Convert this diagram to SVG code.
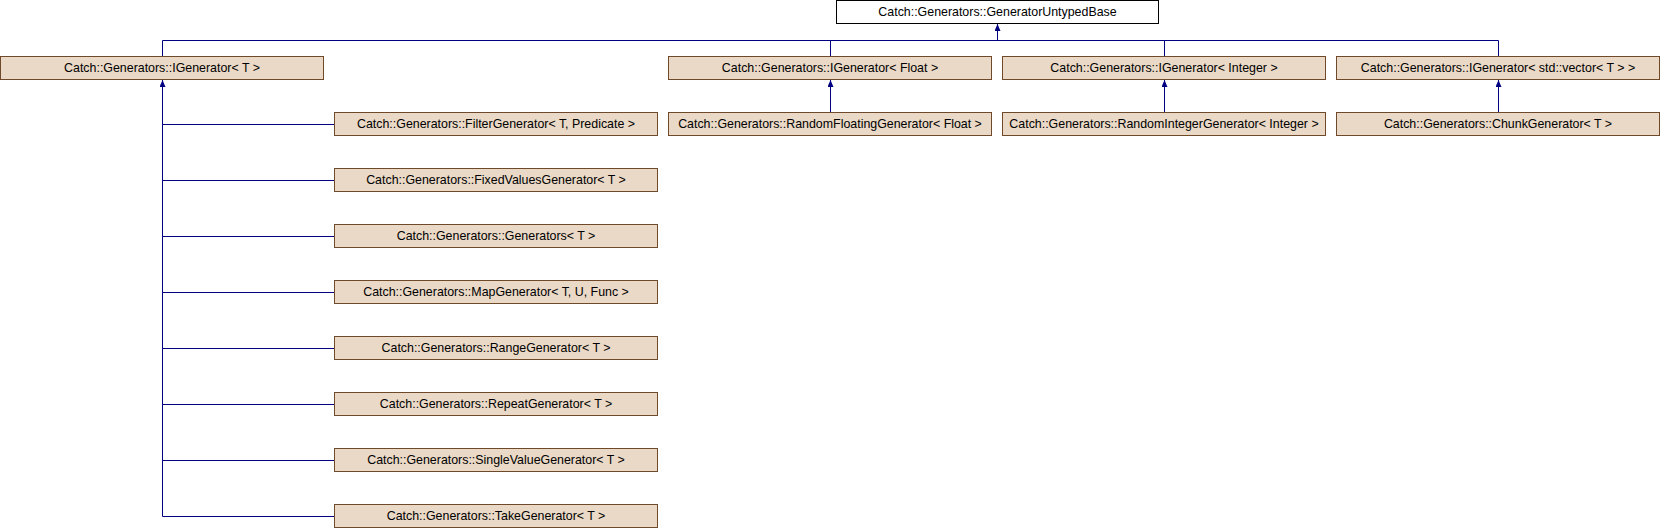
<svg xmlns="http://www.w3.org/2000/svg" width="1660" height="528" viewBox="0 0 1660 528">
<style>
.n rect{fill:#EAD9C6;stroke:#6E4A2A;stroke-width:1}
.n.base rect{fill:#FFFFFF;stroke:#000000}
.n text{font-family:"Liberation Sans",Arial,sans-serif;font-size:12.4px;fill:#000000;text-anchor:middle}
.e path{fill:none;stroke:#000080;stroke-width:1}
</style>
<defs>
<marker id="arr" markerUnits="userSpaceOnUse" viewBox="0 0 7 6" refX="7" refY="3" markerWidth="7" markerHeight="6" orient="auto">
<path d="M0,0 L7,3 L0,6 z" fill="#000080"/>
</marker>
</defs>
<rect width="1660" height="528" fill="#FFFFFF"/>
<g id="connectors" class="e">
<path d="M997.5,40.5 V24" marker-end="url(#arr)"/>
<path d="M162.5,40.5 H1498.5"/>
<path d="M162.5,40.5 V56"/>
<path d="M830.5,40.5 V56"/>
<path d="M1164.5,40.5 V56"/>
<path d="M1498.5,40.5 V56"/>
<path d="M830.5,112 V80" marker-end="url(#arr)"/>
<path d="M1164.5,112 V80" marker-end="url(#arr)"/>
<path d="M1498.5,112 V80" marker-end="url(#arr)"/>
<path d="M162.5,516.5 V80" marker-end="url(#arr)"/>
<path d="M162.5,124.5 H334"/>
<path d="M162.5,180.5 H334"/>
<path d="M162.5,236.5 H334"/>
<path d="M162.5,292.5 H334"/>
<path d="M162.5,348.5 H334"/>
<path d="M162.5,404.5 H334"/>
<path d="M162.5,460.5 H334"/>
<path d="M162.5,516.5 H334"/>
</g>
<g id="GeneratorUntypedBase" class="n base"><rect x="836.5" y="0.5" width="322" height="23"/><text x="997.5" y="16">Catch::Generators::GeneratorUntypedBase</text></g>
<g id="IGenerator_T" class="n"><rect x="0.5" y="56.5" width="323" height="23"/><text x="162" y="72">Catch::Generators::IGenerator&lt; T &gt;</text></g>
<g id="IGenerator_Float" class="n"><rect x="668.5" y="56.5" width="323" height="23"/><text x="830" y="72">Catch::Generators::IGenerator&lt; Float &gt;</text></g>
<g id="IGenerator_Integer" class="n"><rect x="1002.5" y="56.5" width="323" height="23"/><text x="1164" y="72">Catch::Generators::IGenerator&lt; Integer &gt;</text></g>
<g id="IGenerator_vector" class="n"><rect x="1336.5" y="56.5" width="323" height="23"/><text x="1498" y="72">Catch::Generators::IGenerator&lt; std::vector&lt; T &gt; &gt;</text></g>
<g id="RandomFloatingGenerator" class="n"><rect x="668.5" y="112.5" width="323" height="23"/><text x="830" y="128">Catch::Generators::RandomFloatingGenerator&lt; Float &gt;</text></g>
<g id="RandomIntegerGenerator" class="n"><rect x="1002.5" y="112.5" width="323" height="23"/><text x="1164" y="128">Catch::Generators::RandomIntegerGenerator&lt; Integer &gt;</text></g>
<g id="ChunkGenerator" class="n"><rect x="1336.5" y="112.5" width="323" height="23"/><text x="1498" y="128">Catch::Generators::ChunkGenerator&lt; T &gt;</text></g>
<g id="FilterGenerator" class="n"><rect x="334.5" y="112.5" width="323" height="23"/><text x="496" y="128">Catch::Generators::FilterGenerator&lt; T, Predicate &gt;</text></g>
<g id="FixedValuesGenerator" class="n"><rect x="334.5" y="168.5" width="323" height="23"/><text x="496" y="184">Catch::Generators::FixedValuesGenerator&lt; T &gt;</text></g>
<g id="Generators" class="n"><rect x="334.5" y="224.5" width="323" height="23"/><text x="496" y="240">Catch::Generators::Generators&lt; T &gt;</text></g>
<g id="MapGenerator" class="n"><rect x="334.5" y="280.5" width="323" height="23"/><text x="496" y="296">Catch::Generators::MapGenerator&lt; T, U, Func &gt;</text></g>
<g id="RangeGenerator" class="n"><rect x="334.5" y="336.5" width="323" height="23"/><text x="496" y="352">Catch::Generators::RangeGenerator&lt; T &gt;</text></g>
<g id="RepeatGenerator" class="n"><rect x="334.5" y="392.5" width="323" height="23"/><text x="496" y="408">Catch::Generators::RepeatGenerator&lt; T &gt;</text></g>
<g id="SingleValueGenerator" class="n"><rect x="334.5" y="448.5" width="323" height="23"/><text x="496" y="464">Catch::Generators::SingleValueGenerator&lt; T &gt;</text></g>
<g id="TakeGenerator" class="n"><rect x="334.5" y="504.5" width="323" height="23"/><text x="496" y="520">Catch::Generators::TakeGenerator&lt; T &gt;</text></g>
</svg>
